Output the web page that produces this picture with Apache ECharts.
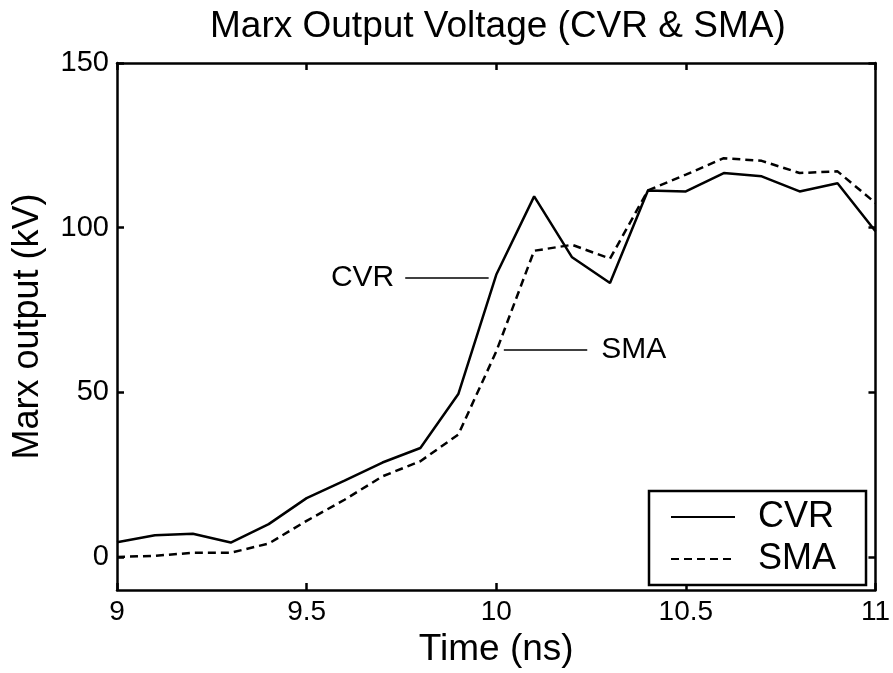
<!DOCTYPE html>
<html>
<head>
<meta charset="utf-8">
<script src="https://cdn.jsdelivr.net/npm/echarts@6/dist/echarts.min.js"></script>
<style>
  html, body { margin: 0; padding: 0; background: #fff; }
  #main { width: 893px; height: 673px; }
</style>
</head>
<body>
<div id="main"></div>
<script>
// time axis (ns)
var times = [9.0, 9.1, 9.2, 9.3, 9.4, 9.5, 9.6, 9.7, 9.8, 9.9, 10.0,
             10.1, 10.2, 10.3, 10.4, 10.5, 10.6, 10.7, 10.8, 10.9, 11.0];
// Marx output (kV)
var cvr = [4.5, 6.6, 7.1, 4.4, 10.0, 17.9, 23.2, 28.7, 33.1, 49.5, 85.7,
           109.5, 91.0, 83.2, 111.3, 111.0, 116.6, 115.6, 111.0, 113.5, 98.9];
var sma = [0.0, 0.4, 1.3, 1.3, 4.1, 11.0, 17.4, 24.5, 29.1, 37.2, 62.4,
           93.0, 94.8, 90.6, 111.3, 116.1, 121.1, 120.3, 116.6, 117.1, 107.5];
var yTicks = [0, 50, 100, 150];
// callout lines, [t start, t end, kV]
var cvrNote = [9.76, 9.98, 84.7];
var smaNote = [10.02, 10.24, 62.8];

function pairs(xs, ys) {
  return xs.map(function (x, i) { return [x, ys[i]]; });
}

var font = 'Liberation Sans, Arial, sans-serif';
var myChart = echarts.init(document.getElementById('main'));

var option = {
  backgroundColor: '#fff',
  animation: false,
  title: {
    text: 'Marx Output Voltage (CVR & SMA)',
    left: 210,
    top: 8,
    padding: 0,
    textStyle: { fontFamily: font, fontSize: 37, fontWeight: 'normal', color: '#000' }
  },
  grid: { left: 117, right: 16, top: 63, bottom: 83 },
  legend: {
    orient: 'vertical',
    left: 649,
    top: 491,
    padding: [8, 30, 8, 21],
    itemWidth: 64,
    itemHeight: 14,
    itemGap: 6,
    borderColor: '#000',
    borderWidth: 2.5,
    backgroundColor: '#fff',
    itemStyle: { opacity: 0 },
    textStyle: { fontFamily: font, fontSize: 36, color: '#000', padding: [0, 0, 0, 18] },
    data: ['CVR', 'SMA']
  },
  xAxis: [{
    type: 'value',
    min: 9,
    max: 11,
    interval: 0.5,
    name: 'Time (ns)',
    nameLocation: 'middle',
    nameGap: 37,
    nameTextStyle: { fontFamily: font, fontSize: 37, color: '#000' },
    axisLine: { onZero: false, lineStyle: { color: '#000', width: 2.5 } },
    axisTick: { inside: true, length: 7, lineStyle: { color: '#000', width: 2.5 } },
    axisLabel: { fontFamily: font, fontSize: 28, color: '#000', margin: 8 },
    splitLine: { show: false }
  }, {
    type: 'value',
    position: 'top',
    min: 9,
    max: 11,
    interval: 0.5,
    axisLine: { onZero: false, lineStyle: { color: '#000', width: 2.5 } },
    axisTick: { inside: true, length: 7, lineStyle: { color: '#000', width: 2.5 } },
    axisLabel: { show: false },
    splitLine: { show: false }
  }],
  yAxis: [{
    type: 'value',
    min: -10,
    max: 150,
    name: 'Marx output (kV)',
    nameLocation: 'middle',
    nameGap: 71,
    nameTextStyle: { fontFamily: font, fontSize: 36, color: '#000' },
    axisLine: { show: true, onZero: false, lineStyle: { color: '#000', width: 2.5 } },
    axisTick: { inside: true, length: 7, customValues: yTicks, lineStyle: { color: '#000', width: 2.5 } },
    axisLabel: { fontFamily: font, fontSize: 29, color: '#000', margin: 8, customValues: yTicks },
    splitLine: { show: false }
  }, {
    type: 'value',
    position: 'right',
    min: -10,
    max: 150,
    axisLine: { show: true, onZero: false, lineStyle: { color: '#000', width: 2.5 } },
    axisTick: { inside: true, length: 7, customValues: yTicks, lineStyle: { color: '#000', width: 2.5 } },
    axisLabel: { show: false },
    splitLine: { show: false }
  }],
  series: [
    {
      name: 'CVR',
      type: 'line',
      symbol: 'none',
      data: pairs(times, cvr),
      lineStyle: { color: '#000', width: 2.5 },
      itemStyle: { color: '#000' },
      markLine: {
        silent: true,
        symbol: 'none',
        lineStyle: { color: '#000', width: 1.5, type: 'solid' },
        label: { show: true, position: 'start', distance: 11, formatter: 'CVR',
                 fontFamily: font, fontSize: 30, color: '#000' },
        data: [[{ coord: [cvrNote[0], cvrNote[2]] }, { coord: [cvrNote[1], cvrNote[2]] }]]
      }
    },
    {
      name: 'SMA',
      type: 'line',
      symbol: 'none',
      data: pairs(times, sma),
      lineStyle: { color: '#000', width: 2.5, type: [8, 5] },
      itemStyle: { color: '#000' },
      markLine: {
        silent: true,
        symbol: 'none',
        lineStyle: { color: '#000', width: 1.5, type: 'solid' },
        label: { show: true, position: 'end', distance: 14, formatter: 'SMA',
                 fontFamily: font, fontSize: 30, color: '#000' },
        data: [[{ coord: [smaNote[0], smaNote[2]] }, { coord: [smaNote[1], smaNote[2]] }]]
      }
    }
  ]
};

myChart.setOption(option);
</script>
</body>
</html>
